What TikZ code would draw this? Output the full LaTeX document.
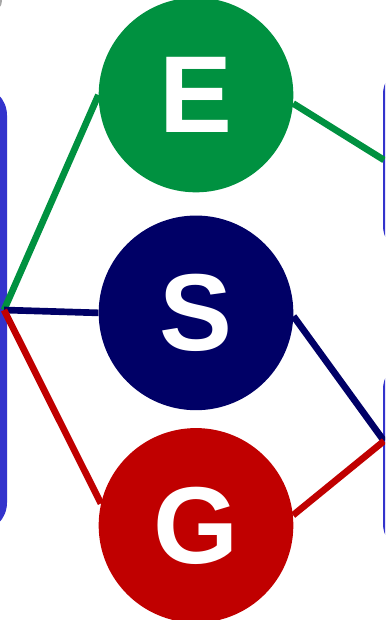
\documentclass[tikz,border=0pt]{standalone}
\usepackage{fontspec}
\newfontfamily\ballfont{Liberation Sans}
\usetikzlibrary{positioning}

\definecolor{egreen}{RGB}{0,145,64}
\definecolor{snavy}{RGB}{0,0,102}
\definecolor{gred}{RGB}{192,0,0}
\definecolor{panelblue}{RGB}{51,51,204}

\begin{document}
\begin{tikzpicture}[x=0.75pt, y=-0.75pt,
    ball/.style={circle, minimum size=146pt, inner sep=0pt, text=white,
        font=\ballfont\bfseries\fontsize{82}{82}\selectfont},
    panel/.style={fill=panelblue, rounded corners=22pt},
    link/.style={line width=5pt}
]
    \useasboundingbox (0,0) rectangle (385,620);
    \clip (0,0) rectangle (385,620);

    % side panels, mostly off the page
    \fill[gray!70] (-8,1) circle (10);
    \fill[panel] (-120,86) rectangle (7,532);
    \fill[panel] (383,65) rectangle (520,255);
    \fill[panel] (383,360) rectangle (520,553);

    \coordinate (jl) at (4,310);
    \coordinate (jtop) at (384,160);
    \coordinate (jbot) at (384,441);

    \node[ball, fill=egreen] (enode) at (196,95) {E};
    \node[ball, fill=snavy, below=17pt of enode] (snode) {S};
    \node[ball, fill=gred, below=13pt of snode] (gnode) {G};

    \draw[link, egreen] (jl) -- (enode.west);
    \draw[link, egreen] (enode.-5) -- (jtop);
    \draw[link, snavy] (jl) -- (snode.west);
    \draw[link, snavy] (snode.-2) -- (jbot);
    \draw[link, gred] (jl) -- (gnode.167);
    \draw[link, gred] (gnode.6) -- (jbot);
\end{tikzpicture}
\end{document}
